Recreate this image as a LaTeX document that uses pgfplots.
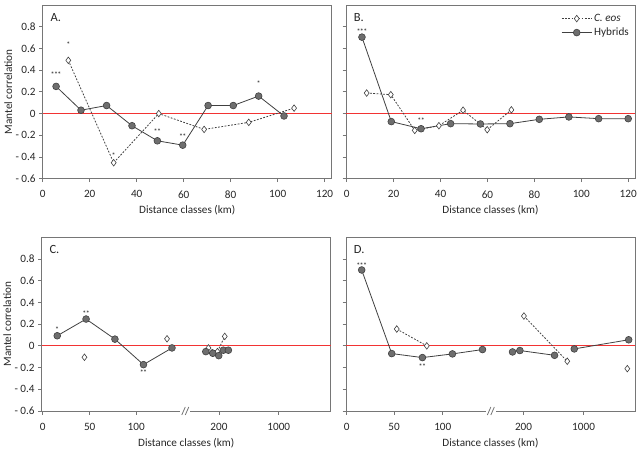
\documentclass[border=0pt]{standalone}
\usepackage{pgfplots}
\pgfplotsset{compat=1.18}
\usepackage{fontspec}
\setmainfont{Carlito}
\definecolor{axisgray}{HTML}{767676}
\definecolor{txt}{HTML}{262626}
\definecolor{hybfill}{HTML}{6E6E6E}
\definecolor{lineg}{HTML}{404040}
\definecolor{zerored}{rgb}{0.95,0.2,0.2}
\newcommand{\sA}{*}
\newcommand{\sB}{*\kern-0.6pt*}
\newcommand{\sC}{*\kern-0.6pt*\kern-0.6pt*}
\tikzset{
  lett/.style={font=\fontsize{12.5}{14}\selectfont, text=txt, anchor=west},
  sigstar/.style={font=\fontsize{8}{8}\selectfont, text=txt, inner sep=0pt, yshift=-1.5pt},
}
\pgfplotsset{
  panel/.style={
    scale only axis, width=289pt, height=173.7pt,
    ymin=-0.6, ymax=1.0,
    ytick={-0.6,-0.4,-0.2,0,0.2,0.4,0.6,0.8},
    axis line style={axisgray, line width=0.8pt},
    every tick/.style={axisgray, line width=0.8pt},
    tick align=outside, major tick length=3.5pt,
    xtick pos=bottom, ytick pos=left,
    tick label style={font=\fontsize{11.2}{13}\selectfont, text=txt},
    xticklabel style={yshift=-5pt},
    label style={font=\fontsize{11.2}{13}\selectfont, text=txt},
    xlabel={Distance classes (km)},
    xlabel style={at={(axis description cs:0.5,-0.184)}, anchor=center},
    ylabel style={at={(axis description cs:-0.119,0.5)}, anchor=center},
    clip=false,
    /pgf/number format/assume math mode=true,
    legend image code/.code={\draw[mark repeat=2,mark phase=2,#1] plot coordinates {(0pt,0pt) (15pt,0pt) (30pt,0pt)};},
  },
  hyb/.style={solid, draw=lineg, line width=0.8pt, mark=*, mark size=3.4pt, mark options={solid, fill=hybfill, draw=lineg, line width=0.6pt}},
  eos/.style={draw=lineg, line width=0.8pt, dash pattern=on 1.8pt off 1.5pt, mark=diamond*, mark size=3.3pt, mark options={solid, fill=white, draw=lineg, line width=0.6pt}},
}
\begin{document}
\begin{tikzpicture}
\path[use as bounding box] (0,0) rectangle (639pt,455pt);
% ---------------- A ----------------
\begin{axis}[panel, at={(42.7pt,276.3pt)}, anchor=south west,
  xmin=0, xmax=123, xtick={0,20,40,60,80,100,120},
  yticklabels={- 0.6,- 0.4,- 0.2,0,0.2,0.4,0.6,0.8},
  ylabel={Mantel correlation}]
\addplot[zerored, line width=0.9pt, mark=none, forget plot] coordinates {(0,0) (123,0)};
\addplot[eos] coordinates {(10.9,0.49) (30.2,-0.453) (49.4,0.0) (68.7,-0.146) (87.7,-0.081) (107,0.05)};
\addplot[hyb] coordinates {(5.7,0.25) (16.3,0.031) (27.2,0.074) (38.0,-0.112) (48.8,-0.251) (59.6,-0.291) (70.4,0.074) (81.1,0.074) (91.9,0.161) (102.7,-0.022)};
\node[sigstar] at (axis cs:5.7,0.372) {\sC};
\node[sigstar] at (axis cs:10.9,0.645) {\sA};
\node[sigstar] at (axis cs:30.2,-0.372) {\sA};
\node[sigstar] at (axis cs:48.8,-0.149) {\sB};
\node[sigstar] at (axis cs:59.6,-0.198) {\sB};
\node[sigstar] at (axis cs:91.9,0.285) {\sA};
\node[lett] at (axis description cs:0.015,0.93) {A.};
\end{axis}
% ---------------- B ----------------
\begin{axis}[panel, at={(346pt,276.3pt)}, anchor=south west,
  xmin=-0.3, xmax=122.9, xtick={0,20,40,60,80,100,120},
  yticklabels={},
  legend style={at={(1,1)}, anchor=north east, draw=none, fill=none,
    font=\fontsize{11.2}{13}\selectfont, text=txt, row sep=1pt,
    xshift=-1pt, yshift=-5pt},
  legend cell align=left]
\addplot[zerored, line width=0.9pt, mark=none, forget plot] coordinates {(-0.3,0) (122.9,0)};
\addplot[eos] coordinates {(8.5,0.189) (18.8,0.174) (29.0,-0.155) (39.3,-0.112) (49.6,0.031) (59.9,-0.149) (70.2,0.034)};
\addlegendentry{\textit{C. eos}}
\addplot[hyb] coordinates {(6.5,0.704) (19.0,-0.074) (31.7,-0.14) (44.3,-0.093) (57.0,-0.096) (69.6,-0.093) (82.1,-0.053) (94.7,-0.031) (107.4,-0.047) (120,-0.047)};
\addlegendentry{Hybrids}
\node[sigstar] at (axis cs:6.5,0.77) {\sC};
\node[sigstar] at (axis cs:31.7,-0.056) {\sB};
\node[lett] at (axis description cs:0.015,0.93) {B.};
\end{axis}
% ---------------- C ----------------
\begin{axis}[panel, at={(41.7pt,44pt)}, anchor=south west,
  xmin=-0.02, xmax=6.16, xtick={0,1.007,2,3.77,5.05}, xticklabels={0,50,100,200,1000},
  yticklabels={- 0.6,- 0.4,- 0.2,0,0.2,0.4,0.6,0.8},
  ylabel={Mantel correlation}]
\addplot[zerored, line width=0.9pt, mark=none, forget plot] coordinates {(-0.02,0) (6.16,0)};
\addplot[eos, only marks] coordinates {(0.894,-0.105) (2.66,0.065)};
\addplot[eos] coordinates {(3.546,-0.019) (3.738,-0.053) (3.894,0.087)};
\addplot[hyb] coordinates {(0.312,0.093) (0.929,0.247) (1.546,0.062) (2.156,-0.173) (2.766,-0.019)};
\addplot[hyb] coordinates {(3.489,-0.053) (3.638,-0.068) (3.766,-0.090) (3.865,-0.040) (3.972,-0.040)};
\node[sigstar] at (axis cs:0.312,0.161) {\sA};
\node[sigstar] at (axis cs:0.929,0.306) {\sB};
\node[sigstar] at (axis cs:2.156,-0.235) {\sB};
\fill[white] ([xshift=-5pt,yshift=-2pt]axis cs:3.05,-0.6) rectangle ([xshift=5pt,yshift=2pt]axis cs:3.05,-0.6);
\draw[axisgray, line width=0.8pt] ([xshift=-3.5pt,yshift=-4pt]axis cs:3.05,-0.6) -- ([xshift=0pt,yshift=4pt]axis cs:3.05,-0.6);
\draw[axisgray, line width=0.8pt] ([xshift=0pt,yshift=-4pt]axis cs:3.05,-0.6) -- ([xshift=3.5pt,yshift=4pt]axis cs:3.05,-0.6);
\node[lett] at (axis description cs:0.015,0.93) {C.};
\end{axis}
% ---------------- D ----------------
\begin{axis}[panel, at={(346pt,44pt)}, anchor=south west,
  xmin=-0.014, xmax=6.0, xtick={0,0.986,2,3.68,4.93}, xticklabels={0,50,100,200,1000},
  yticklabels={}]
\addplot[zerored, line width=0.9pt, mark=none, forget plot] coordinates {(-0.014,0) (6.0,0)};
\addplot[eos] coordinates {(1.042,0.155) (1.667,0.0)};
\addplot[eos] coordinates {(3.688,0.275) (4.59,-0.142)};
\addplot[eos, only marks] coordinates {(5.84,-0.21)};
\addplot[hyb] coordinates {(0.3125,0.699) (0.9375,-0.071) (1.576,-0.108) (2.201,-0.074) (2.826,-0.034)};
\addplot[hyb] coordinates {(3.451,-0.056) (3.604,-0.043) (4.326,-0.087)};
\addplot[hyb] coordinates {(4.736,-0.028) (5.868,0.056)};
\node[sigstar] at (axis cs:0.3125,0.754) {\sC};
\node[sigstar] at (axis cs:1.576,-0.182) {\sB};
\fill[white] ([xshift=-5pt,yshift=-2pt]axis cs:3.0,-0.6) rectangle ([xshift=5pt,yshift=2pt]axis cs:3.0,-0.6);
\draw[axisgray, line width=0.8pt] ([xshift=-3.5pt,yshift=-4pt]axis cs:3.0,-0.6) -- ([xshift=0pt,yshift=4pt]axis cs:3.0,-0.6);
\draw[axisgray, line width=0.8pt] ([xshift=0pt,yshift=-4pt]axis cs:3.0,-0.6) -- ([xshift=3.5pt,yshift=4pt]axis cs:3.0,-0.6);
\node[lett] at (axis description cs:0.015,0.93) {D.};
\end{axis}
\end{tikzpicture}
\end{document}
